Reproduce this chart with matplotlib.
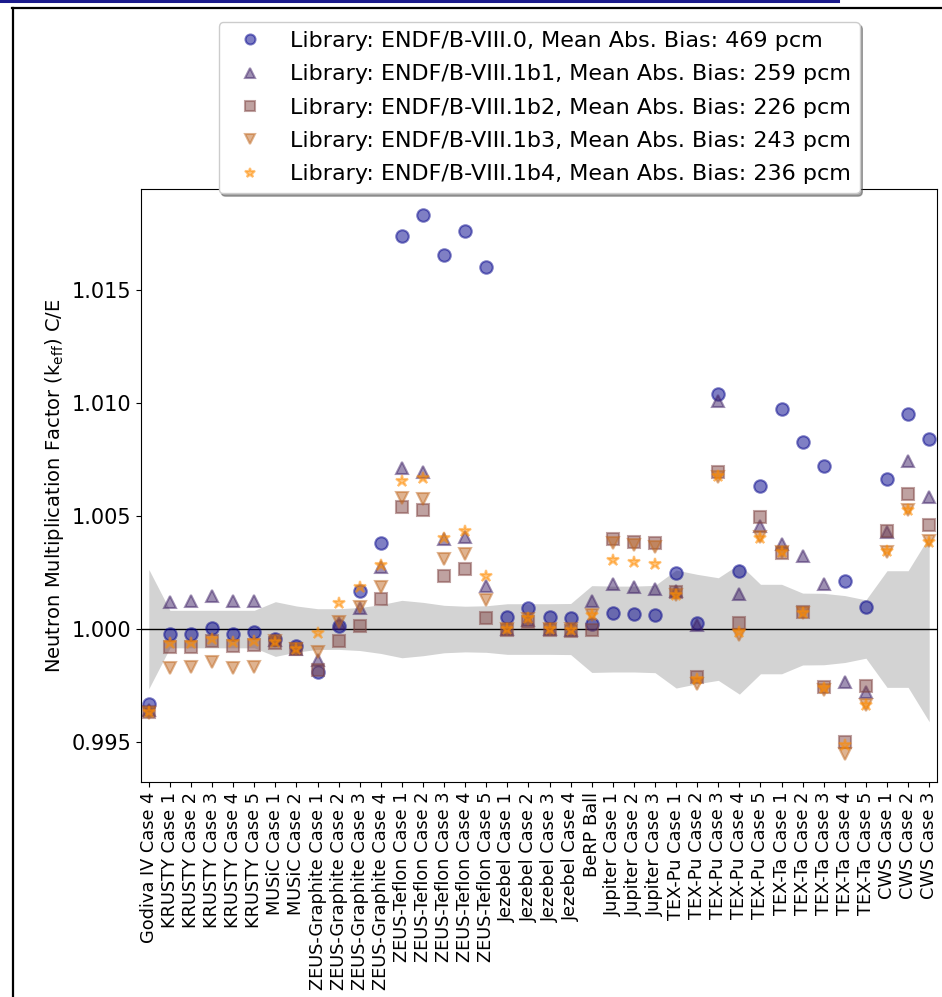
import numpy as np
import matplotlib
matplotlib.use("Agg")
from matplotlib import pyplot as plt
from matplotlib.lines import Line2D
from matplotlib.colors import LinearSegmentedColormap

cases = ["Godiva IV Case 4",
         "KRUSTY Case 1", "KRUSTY Case 2", "KRUSTY Case 3", "KRUSTY Case 4", "KRUSTY Case 5",
         "MUSiC Case 1", "MUSiC Case 2",
         "ZEUS-Graphite Case 1", "ZEUS-Graphite Case 2", "ZEUS-Graphite Case 3", "ZEUS-Graphite Case 4",
         "ZEUS-Teflon Case 1", "ZEUS-Teflon Case 2", "ZEUS-Teflon Case 3", "ZEUS-Teflon Case 4",
         "ZEUS-Teflon Case 5",
         "Jezebel Case 1", "Jezebel Case 2", "Jezebel Case 3", "Jezebel Case 4",
         "BeRP Ball",
         "Jupiter Case 1", "Jupiter Case 2", "Jupiter Case 3",
         "TEX-Pu Case 1", "TEX-Pu Case 2", "TEX-Pu Case 3", "TEX-Pu Case 4", "TEX-Pu Case 5",
         "TEX-Ta Case 1", "TEX-Ta Case 2", "TEX-Ta Case 3", "TEX-Ta Case 4", "TEX-Ta Case 5",
         "CWS Case 1", "CWS Case 2", "CWS Case 3"]

libraries = ["ENDF/B-VIII.0", "ENDF/B-VIII.1b1", "ENDF/B-VIII.1b2",
             "ENDF/B-VIII.1b3", "ENDF/B-VIII.1b4"]
mean_abs_bias = [469, 259, 226, 243, 236]

# C/E values per library
ce_viii0 = [0.99667, 0.99978, 0.99978, 1.00003, 0.99978, 0.99988, 0.99958, 0.99926,
            0.99808, 1.00015, 1.00168, 1.00380, 1.01740, 1.01833, 1.01657, 1.01762,
            1.01602, 1.00055, 1.00092, 1.00055, 1.00047, 1.00022, 1.00072, 1.00066,
            1.00062, 1.00250, 1.00025, 1.01038, 1.00257, 1.00634, 1.00975, 1.00829,
            1.00720, 1.00214, 1.00096, 1.00664, 1.00953, 1.00841]
ce_viii1b1 = [0.99640, 1.00118, 1.00126, 1.00145, 1.00126, 1.00124, 0.99950, 0.99910,
              0.99863, 1.00025, 1.00094, 1.00276, 1.00712, 1.00695, 1.00399, 1.00408,
              1.00192, 1.00000, 1.00040, 1.00000, 0.99995, 1.00126, 1.00198, 1.00188,
              1.00176, 1.00170, 1.00018, 1.01010, 1.00155, 1.00457, 1.00377, 1.00325,
              1.00198, 0.99766, 0.99722, 1.00429, 1.00742, 1.00584]
ce_viii1b2 = [0.99633, 0.99922, 0.99922, 0.99947, 0.99926, 0.99929, 0.99939, 0.99910,
              0.99818, 0.99948, 1.00015, 1.00133, 1.00538, 1.00528, 1.00236, 1.00265,
              1.00050, 0.99996, 1.00032, 0.99996, 0.99993, 0.99996, 1.00398, 1.00387,
              1.00380, 1.00163, 0.99786, 1.00697, 1.00028, 1.00495, 1.00336, 1.00077,
              0.99744, 0.99500, 0.99749, 1.00435, 1.00599, 1.00461]
ce_viii1b3 = [0.99630, 0.99826, 0.99830, 0.99855, 0.99826, 0.99833, 0.99945, 0.99910,
              0.99900, 1.00032, 1.00096, 1.00185, 1.00580, 1.00576, 1.00310, 1.00333,
              1.00129, 1.00000, 1.00045, 1.00000, 1.00000, 1.00062, 1.00380, 1.00372,
              1.00365, 1.00151, 0.99756, 1.00673, 0.99973, 1.00407, 1.00343, 1.00072,
              0.99730, 0.99446, 0.99663, 1.00343, 1.00525, 1.00390]
ce_viii1b4 = [0.99635, 0.99937, 0.99939, 0.99956, 0.99944, 0.99948, 0.99941, 0.99910,
              0.99984, 1.00117, 1.00188, 1.00284, 1.00656, 1.00668, 1.00402, 1.00436,
              1.00235, 1.00000, 1.00047, 0.99998, 0.99996, 1.00062, 1.00306, 1.00298,
              1.00288, 1.00151, 0.99781, 1.00678, 0.99988, 1.00402, 1.00343, 1.00072,
              0.99741, 0.99486, 0.99663, 1.00347, 1.00525, 1.00387]

# experimental uncertainty (1 sigma)
exp_unc = [0.00264, 0.00083, 0.00083, 0.00083, 0.00083, 0.00083, 0.00121, 0.00102,
           0.00090, 0.00090, 0.00095, 0.00108, 0.00127, 0.00118, 0.00105, 0.00101,
           0.00103, 0.00112, 0.00112, 0.00112, 0.00113, 0.00192, 0.00190, 0.00190,
           0.00193, 0.00261, 0.00242, 0.00227, 0.00288, 0.00198, 0.00198, 0.00159,
           0.00158, 0.00148, 0.00129, 0.00258, 0.00258, 0.00410]

all_ce = [ce_viii0, ce_viii1b1, ce_viii1b2, ce_viii1b3, ce_viii1b4]
markers = ['o', '^', 's', 'v', '*']

cmap = LinearSegmentedColormap.from_list("lib", ["darkblue", "darkorange"])
colors = [cmap(i / 4) for i in range(5)]

x = np.arange(len(cases))
unc = np.array(exp_unc)

fig = plt.figure(figsize=(9.42, 9.97), dpi=100)
ax = fig.add_axes([0.1497, 0.2156, 0.8450, 0.5948])

ax.fill_between(x, 1 - unc, 1 + unc, color='lightgray', linewidth=0, zorder=0)
ax.axhline(1.0, color='black', linewidth=1, zorder=1)

for ce, m, c, lib, bias in zip(all_ce, markers, colors, libraries, mean_abs_bias):
    ax.plot(x, ce, linestyle='none', marker=m, markersize=9, color=c,
            markeredgewidth=1.5, alpha=0.5,
            label="Library: %s, Mean Abs. Bias: %d pcm" % (lib, bias))

ax.set_xlim(-0.37, len(cases) - 1 + 0.37)
ax.set_ylim(0.99323, 1.01947)
ax.set_xticks(x)
ax.set_xticklabels(cases, rotation=90, fontsize=12.8)
ax.tick_params(axis='y', labelsize=15)
ax.set_ylabel(r'Neutron Multiplication Factor (k$_{\mathrm{eff}}$) C/E', fontsize=14)

ax.legend(loc='upper center', bbox_to_anchor=(0.5, 1.300), fontsize=16,
          shadow=True, markerscale=0.8, framealpha=1, labelspacing=0.6)

# screenshot frame around the figure
fig.add_artist(Line2D([0, 838 / 942], [1 - 1.5 / 997, 1 - 1.5 / 997],
                      color='#1a1a8c', linewidth=2.2))
fig.add_artist(Line2D([12 / 942, 1], [1 - 8 / 997, 1 - 8 / 997],
                      color='black', linewidth=1.6))
fig.add_artist(Line2D([13 / 942, 13 / 942], [0, 1 - 8 / 997],
                      color='black', linewidth=1.6))

fig.savefig('out.png', dpi=100)
